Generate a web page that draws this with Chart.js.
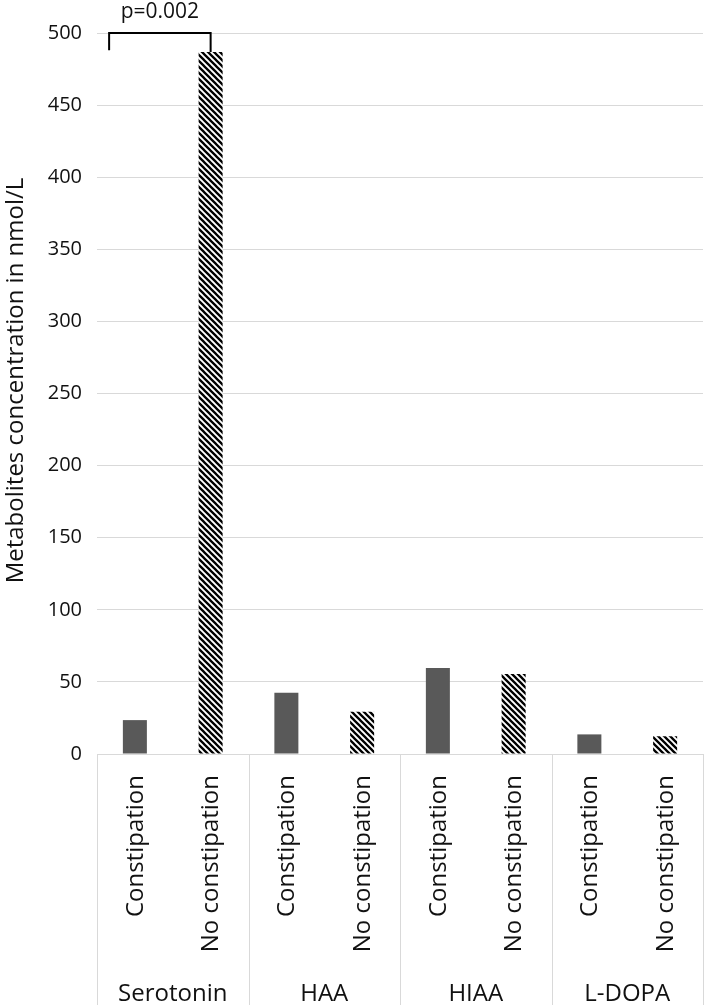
<!DOCTYPE html>
<html>
<head>
<meta charset="utf-8">
<script src="https://cdn.jsdelivr.net/npm/chart.js@4.4.1/dist/chart.umd.min.js"></script>
<style>
html,body{margin:0;padding:0;background:#fff;}
canvas{display:block;}
</style>
</head>
<body>
<canvas id="c" width="708" height="1005"></canvas>
<script>
// ---- data ----
const groups = ['Serotonin', 'HAA', 'HIAA', 'L-DOPA'];
const conditions = ['Constipation', 'No constipation'];
const constipation = [23.5, 42.5, 59.6, 13.6];
const noConstipation = [486.8, 29.3, 55.5, 12.3];
const yTicks = [0, 50, 100, 150, 200, 250, 300, 350, 400, 450, 500];
const yTitle = 'Metabolites concentration in nmol/L';
const pLabel = 'p=0.002';

// build flat category list (group x condition)
const labels = [];
const dataC = [];
const dataN = [];
groups.forEach((g, i) => {
  labels.push(g + '|' + conditions[0]);
  labels.push(g + '|' + conditions[1]);
  dataC.push(constipation[i], null);
  dataN.push(null, noConstipation[i]);
});

// hatch pattern
function makeHatch() {
  const s = 6;
  const c = document.createElement('canvas');
  c.width = s; c.height = s;
  const x = c.getContext('2d');
  x.fillStyle = '#fff';
  x.fillRect(0, 0, s, s);
  x.strokeStyle = '#000';
  x.lineWidth = 2.3;
  x.beginPath();
  for (let k = -1; k <= 1; k++) {
    x.moveTo(k * s - 1, -1);
    x.lineTo(k * s + s + 1, s + 1);
  }
  x.stroke();
  return x.createPattern(c, 'repeat');
}
const ctx = document.getElementById('c').getContext('2d');
const hatch = makeHatch();

const FONT = '"Open Sans", "Noto Sans", sans-serif';
const TXT = '#111';
const GRID = '#d9d9d9';

const labelPlugin = {
  id: 'labelPlugin',
  afterDraw(chart) {
    const c = chart.ctx;
    const xs = chart.scales.x;
    const ys = chart.scales.y;
    const area = chart.chartArea;
    const n = labels.length;
    const catW = (xs.getPixelForValue(1) - xs.getPixelForValue(0));
    c.save();
    // separators
    c.strokeStyle = GRID;
    c.lineWidth = 1;
    for (let g = 0; g <= groups.length; g++) {
      const px = Math.round(xs.getPixelForValue(Math.min(g * 2, n - 1)) + (g * 2 >= n ? catW / 2 : -catW / 2)) + 0.5;
      c.beginPath();
      c.moveTo(px, area.bottom);
      c.lineTo(px, chart.height);
      c.stroke();
    }
    // y axis title
    c.fillStyle = TXT;
    c.font = '24px ' + FONT;
    c.textAlign = 'center';
    c.textBaseline = 'middle';
    c.save();
    c.translate(16, (area.top + area.bottom) / 2 - 13);
    c.rotate(-Math.PI / 2);
    c.fillText(yTitle, 0, 0);
    c.restore();
    // sub labels (rotated)
    c.textAlign = 'right';
    c.textBaseline = 'middle';
    labels.forEach((lab, i) => {
      const t = lab.split('|')[1];
      const px = xs.getPixelForValue(i);
      c.save();
      c.translate(px + 1, area.bottom + 21);
      c.rotate(-Math.PI / 2);
      c.fillText(t, 0, 0);
      c.restore();
    });
    // group labels
    c.textAlign = 'center';
    c.textBaseline = 'alphabetic';
    groups.forEach((g, i) => {
      const px = (xs.getPixelForValue(2 * i) + xs.getPixelForValue(2 * i + 1)) / 2;
      c.fillText(g, px, area.bottom + 247);
    });
    // significance bracket
    const x0 = xs.getPixelForValue(0) - catW * 0.34;
    const x1 = xs.getPixelForValue(1);
    const yTop = ys.getPixelForValue(500);
    const yL = ys.getPixelForValue(488);
    const yR = ys.getPixelForValue(noConstipation[0]);
    c.strokeStyle = '#000';
    c.lineWidth = 2;
    c.beginPath();
    c.moveTo(x0, yL);
    c.lineTo(x0, yTop);
    c.lineTo(x1, yTop);
    c.lineTo(x1, yR);
    c.stroke();
    c.fillStyle = TXT;
    c.font = '21px ' + FONT;
    c.textAlign = 'center';
    c.textBaseline = 'middle';
    c.fillText(pLabel, (x0 + x1) / 2, yTop - 21);
    c.restore();
  }
};

new Chart(ctx, {
  type: 'bar',
  data: {
    labels: labels,
    datasets: [
      { label: conditions[0], data: dataC, backgroundColor: '#595959', grouped: false },
      { label: conditions[1], data: dataN, backgroundColor: hatch, grouped: false }
    ]
  },
  options: {
    responsive: false,
    animation: false,
    devicePixelRatio: 1,
    categoryPercentage: 1,
    barPercentage: 0.317,
    layout: { padding: { top: 33, bottom: 251, right: 5, left: 0 } },
    plugins: { legend: { display: false }, tooltip: { enabled: false } },
    scales: {
      x: {
        ticks: { display: false },
        grid: { display: false, drawTicks: false },
        border: { display: true, color: GRID, width: 1 },
        afterFit(s) { s.height = 0; }
      },
      y: {
        min: 0, max: 500,
        afterBuildTicks(s) { s.ticks = yTicks.map(v => ({ value: v })); },
        ticks: { color: TXT, font: { family: FONT, size: 20 }, padding: 15 },
        grid: { color: GRID, drawTicks: false, lineWidth: 1 },
        border: { display: false },
        title: { display: false },
        afterFit(s) { s.width = 97; }
      }
    }
  },
  plugins: [labelPlugin]
});
</script>
</body>
</html>
